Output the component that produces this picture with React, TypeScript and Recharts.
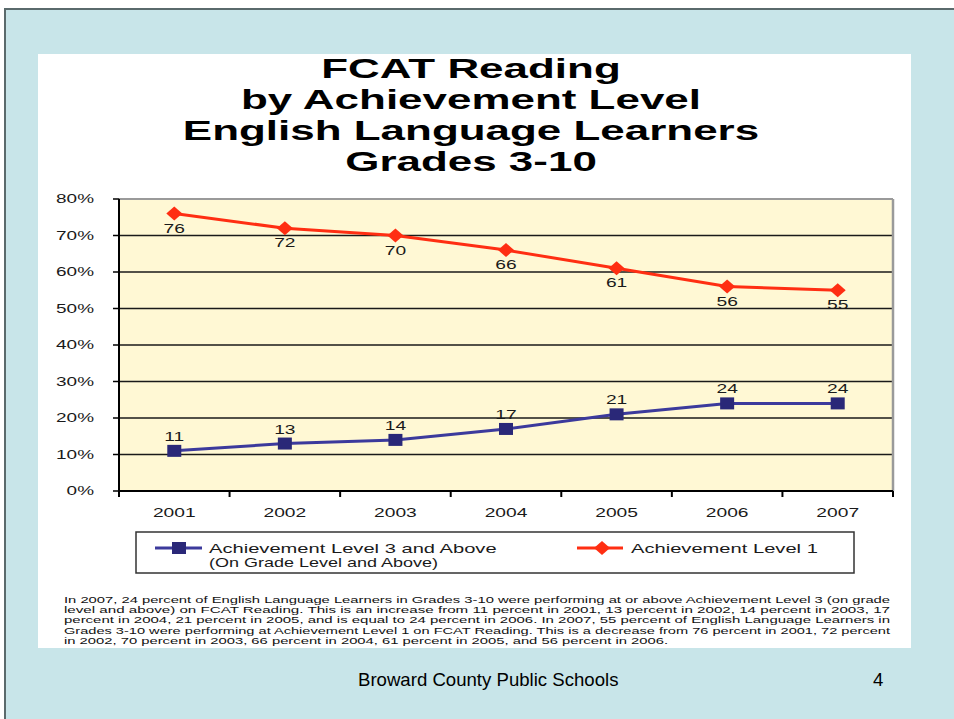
import React from "react";
import {
  LineChart,
  Line,
  XAxis,
  YAxis,
  CartesianGrid,
  ReferenceLine,
  LabelList,
} from "recharts";

const years = ["2001", "2002", "2003", "2004", "2005", "2006", "2007"];
const level3 = [11, 13, 14, 17, 21, 24, 24];
const level1 = [76, 72, 70, 66, 61, 56, 55];
const yTicks = [0, 10, 20, 30, 40, 50, 60, 70, 80];

const titleLines = [
  "FCAT Reading",
  "by Achievement Level",
  "English Language Learners",
  "Grades 3-10",
];

const noteLines = [
  "In 2007, 24 percent of English Language Learners in Grades 3-10 were performing at or above Achievement Level 3 (on grade",
  "level and above) on FCAT Reading. This is an increase from 11 percent in 2001, 13 percent in 2002, 14 percent in 2003, 17",
  "percent in 2004, 21 percent in 2005, and is equal to 24 percent in 2006. In 2007, 55 percent of English Language Learners in",
  "Grades 3-10 were performing at Achievement Level 1 on FCAT Reading. This is a decrease from 76 percent in 2001, 72 percent",
  "in 2002, 70 percent in 2003, 66 percent in 2004, 61 percent in 2005, and 56 percent in 2006.",
];

const FONT = "'Liberation Sans', Arial, sans-serif";
const RED = "#FF2E12";
const NAVY = "#2A2878";
const NAVY_LINE = "#3C3A9C";
const PLOT_BG = "#FFF8D4";
const SLIDE_BG = "#C8E5E9";

// every row sits in the middle of its category slot
const data = years.map((y, i) => ({
  year: y,
  pos: i + 0.5,
  level3: level3[i],
  level1: level1[i],
}));
// slot edges get tick marks, slot centres get the year text
const xTicks = [0, ...years.flatMap((_, i) => [i + 0.5, i + 1])];

// the original graphic is a stretched picture, so text is widened
const SText = ({
  x,
  y,
  sx = 1.55,
  size = 12,
  weight = "normal",
  anchor = "middle",
  fill = "#1a1a1a",
  children,
}: any) => (
  <text
    transform={`translate(${x} ${y}) scale(${sx} 1)`}
    fontSize={size}
    fontWeight={weight}
    textAnchor={anchor}
    fill={fill}
    fontFamily={FONT}
  >
    {children}
  </text>
);

const XTick = (props: any) => {
  const { x, y, payload } = props;
  const v = payload.value;
  if (Number.isInteger(v)) {
    return <line x1={x} x2={x} y1={y} y2={y + 6} stroke="#000" strokeWidth={2} />;
  }
  return (
    <SText x={x} y={y + 26} sx={1.6}>
      {years[Math.floor(v)]}
    </SText>
  );
};

const YTick = (props: any) => {
  const { x, y, payload } = props;
  return (
    <SText x={x} y={y + 4} sx={1.58} anchor="end">
      {`${payload.value}%`}
    </SText>
  );
};

const Square = (p: any) => (
  <rect key={`s${p.index}`} x={p.cx - 7} y={p.cy - 6} width={14} height={12} fill={NAVY} />
);

const Diamond = (p: any) => (
  <polygon
    key={`d${p.index}`}
    points={`${p.cx},${p.cy - 7} ${p.cx + 8},${p.cy} ${p.cx},${p.cy + 7} ${p.cx - 8},${p.cy}`}
    fill={RED}
  />
);

const pointOf = (p: any) => ({
  x: p.x ?? p.viewBox?.x ?? 0,
  y: p.y ?? p.viewBox?.y ?? 0,
});

const LabelBelow = (p: any) => {
  const { x, y } = pointOf(p);
  return (
    <SText x={x} y={y + 19} sx={1.6}>
      {p.value}
    </SText>
  );
};

const LabelAbove = (p: any) => {
  const { x, y } = pointOf(p);
  return (
    <SText x={x} y={y - 10} sx={1.6}>
      {p.value}
    </SText>
  );
};

export default function App() {
  return (
    <div
      style={{
        position: "absolute",
        left: 0,
        top: 0,
        width: 954,
        height: 719,
        overflow: "hidden",
        background: "#fff",
      }}
    >
      {/* slide background with its frame */}
      <div
        style={{
          position: "absolute",
          left: 4,
          top: 8,
          width: 970,
          height: 730,
          background: SLIDE_BG,
          borderTop: "2px solid #5a6a6c",
          borderLeft: "2px solid #5a6a6c",
        }}
      />
      {/* white panel */}
      <div
        style={{
          position: "absolute",
          left: 38,
          top: 54,
          width: 873,
          height: 594,
          background: "#fff",
        }}
      />
      <div style={{ position: "absolute", left: 38, top: 54 }}>
        <LineChart
          width={873}
          height={594}
          data={data}
          margin={{ top: 145, right: 18, bottom: 127, left: 0 }}
        >
          <CartesianGrid
            vertical={false}
            horizontal
            stroke="#1a1a1a"
            strokeWidth={1.3}
            fill={PLOT_BG}
            fillOpacity={1}
          />
          <XAxis
            type="number"
            dataKey="pos"
            domain={[0, 7]}
            ticks={xTicks}
            interval={0}
            tickLine={false}
            tickSize={0}
            tickMargin={0}
            height={30}
            axisLine={{ stroke: "#000", strokeWidth: 2 }}
            tick={<XTick />}
          />
          <YAxis
            type="number"
            domain={[0, 80]}
            ticks={yTicks}
            interval={0}
            width={81}
            tickSize={6}
            tickMargin={19}
            tickLine={{ stroke: "#000", strokeWidth: 1.5 }}
            axisLine={{ stroke: "#000", strokeWidth: 2 }}
            tick={<YTick />}
          />
          <ReferenceLine y={80} stroke="#9a9a9a" strokeWidth={2} />
          <ReferenceLine x={7} stroke="#9a9a9a" strokeWidth={2.5} />
          <Line
            dataKey="level1"
            stroke={RED}
            strokeWidth={3}
            dot={Diamond}
            activeDot={false}
            isAnimationActive={false}
          >
            <LabelList dataKey="level1" content={LabelBelow} />
          </Line>
          <Line
            dataKey="level3"
            stroke={NAVY_LINE}
            strokeWidth={3}
            dot={Square}
            activeDot={false}
            isAnimationActive={false}
          >
            <LabelList dataKey="level3" content={LabelAbove} />
          </Line>
        </LineChart>
      </div>

      {/* title, legend, note and footer */}
      <svg
        width={954}
        height={719}
        style={{ position: "absolute", left: 0, top: 0, pointerEvents: "none" }}
      >
        {titleLines.map((t, i) => (
          <SText key={t} x={471} y={78 + i * 31} size={28} weight="bold" sx={1.57} fill="#000">
            {t}
          </SText>
        ))}

        <rect x={136} y={532} width={718} height={41} fill="#fff" stroke="#333" strokeWidth={1.5} />
        <line x1={155} x2={202} y1={548} y2={548} stroke={NAVY_LINE} strokeWidth={3} />
        <rect x={172} y={542} width={14} height={12} fill={NAVY} />
        <SText x={209} y={553} size={13} sx={1.55} anchor="start">
          Achievement Level 3 and Above
        </SText>
        <SText x={209} y={567} size={12} sx={1.5} anchor="start">
          (On Grade Level and Above)
        </SText>
        <line x1={577} x2={623} y1={548} y2={548} stroke={RED} strokeWidth={3} />
        <polygon points="602,541 610,548 602,555 594,548" fill={RED} />
        <SText x={631} y={553} size={13} sx={1.55} anchor="start">
          Achievement Level 1
        </SText>

        {noteLines.map((t, i) => (
          <text
            key={i}
            x={64}
            y={603 + i * 10.2}
            fontSize={8.8}
            fontFamily={FONT}
            fill="#111"
            textLength={i < 4 ? 826 : 604}
            lengthAdjust="spacingAndGlyphs"
          >
            {t}
          </text>
        ))}

        <text x={358} y={686} fontSize={18.6} fontFamily={FONT} fill="#000">
          Broward County Public Schools
        </text>
        <text x={873} y={686} fontSize={18.6} fontFamily={FONT} fill="#000">
          4
        </text>
      </svg>
    </div>
  );
}
